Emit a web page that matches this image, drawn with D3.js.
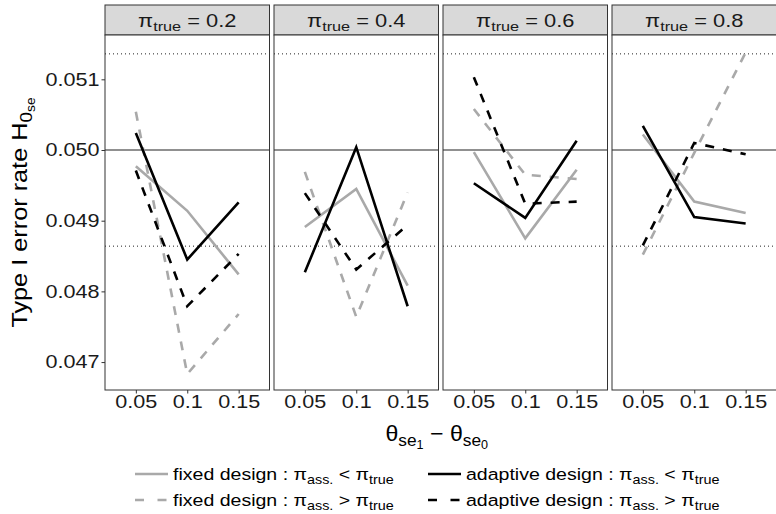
<!DOCTYPE html>
<html>
<head>
<meta charset="utf-8">
<script src="https://cdn.jsdelivr.net/npm/d3@7"></script>
<style>
  html, body { margin: 0; padding: 0; background: #fff; }
  svg { display: block; font-family: "Liberation Sans", Arial, sans-serif; }
</style>
</head>
<body>
<svg id="chart" width="776" height="514"></svg>
<script>
// ---- data ----
const piTrue = ["0.2", "0.4", "0.6", "0.8"];
const xCats = ["0.05", "0.1", "0.15"];
const yTicks = [0.047, 0.048, 0.049, 0.050, 0.051];
const nominal = 0.05;
const ciBounds = [0.05136, 0.04864];

// per panel (pi_true = 0.2, 0.4, 0.6, 0.8), values at x = 0.05, 0.1, 0.15
const fixedLess = [
  [0.04977, 0.04914, 0.04824],
  [0.04891, 0.04945, 0.04808],
  [0.04997, 0.04875, 0.04972],
  [0.05022, 0.04927, 0.04911]
];
const fixedGreater = [
  [0.05054, 0.04683, 0.04768],
  [0.04969, 0.04764, 0.04940],
  [0.05058, 0.04965, 0.04959],
  [0.04852, 0.04996, 0.05138]
];
const adaptiveLess = [
  [0.05024, 0.04845, 0.04926],
  [0.04827, 0.05004, 0.04779],
  [0.04953, 0.04904, 0.05013],
  [0.05034, 0.04905, 0.04896]
];
const adaptiveGreater = [
  [0.04971, 0.04779, 0.04853],
  [0.04939, 0.04831, 0.04894],
  [0.05103, 0.04924, 0.04927],
  [0.04865, 0.05010, 0.04994]
];

const series = [
  { values: fixedLess,       color: "#a9a9a9", dash: null,  design: "fixed design :  ",    rel: " < " },
  { values: fixedGreater,    color: "#a9a9a9", dash: "9,9", design: "fixed design :  ",    rel: " > " },
  { values: adaptiveLess,    color: "#000000", dash: null,  design: "adaptive design :  ", rel: " < " },
  { values: adaptiveGreater, color: "#000000", dash: "9,9", design: "adaptive design :  ", rel: " > " }
];

// ---- layout ----
const svg = d3.select("#chart");
const panelLeft = 105, panelW = 164.5, panelGap = 4.5;
const stripTop = 5, panelTop = 35, panelBottom = 390;
const borderCol = "#333333";
const fs = 18;
const stretch = 1.2;

const y = d3.scaleLinear().domain([0.046605, 0.051627]).range([panelBottom, panelTop]);
const x = d3.scalePoint().domain(xCats).range([0, panelW]).padding(0.6);

const line = d3.line().x((d, i) => x(xCats[i])).y(d => y(d));

function stretchTicks(sel, s) {
  sel.selectAll("text").each(function () {
    const t = d3.select(this);
    const tx = +t.attr("x") || 0;
    t.attr("x", 0).attr("transform", `translate(${tx},0) scale(${s},1)`);
  });
}

piTrue.forEach((p, k) => {
  const px = panelLeft + k * (panelW + panelGap);
  const g = svg.append("g").attr("transform", `translate(${px},0)`);

  // strip
  g.append("rect").attr("x", 0).attr("y", stripTop).attr("width", panelW).attr("height", panelTop - stripTop)
    .attr("fill", "#d9d9d9").attr("stroke", borderCol).attr("stroke-width", 1);
  const st = g.append("text").attr("transform", `translate(${panelW / 2},27) scale(1.25,1)`)
    .attr("text-anchor", "middle").attr("font-size", 17.5).attr("fill", "#1a1a1a");
  st.append("tspan").text("π");
  st.append("tspan").attr("font-size", 13).attr("dy", 4).text("true");
  st.append("tspan").attr("dy", -4).text(" = " + p);

  // panel background
  g.append("rect").attr("x", 0).attr("y", panelTop).attr("width", panelW).attr("height", panelBottom - panelTop)
    .attr("fill", "#fff");

  // reference lines
  g.append("line").attr("x1", 0).attr("x2", panelW).attr("y1", y(nominal)).attr("y2", y(nominal))
    .attr("stroke", "#222").attr("stroke-width", 1.1);
  ciBounds.forEach(b => {
    g.append("line").attr("x1", 0).attr("x2", panelW).attr("y1", y(b)).attr("y2", y(b))
      .attr("stroke", "#222").attr("stroke-width", 1).attr("stroke-dasharray", "1,3");
  });

  // series lines
  series.forEach(s => {
    g.append("path").datum(s.values[k]).attr("d", line)
      .attr("fill", "none").attr("stroke", s.color).attr("stroke-width", 2.6)
      .attr("stroke-dasharray", s.dash);
  });

  // border
  g.append("rect").attr("x", 0).attr("y", panelTop).attr("width", panelW).attr("height", panelBottom - panelTop)
    .attr("fill", "none").attr("stroke", borderCol).attr("stroke-width", 1);

  // x axis
  const xa = g.append("g").attr("transform", `translate(0,${panelBottom})`)
    .call(d3.axisBottom(x).tickSize(3.5).tickPadding(2));
  xa.select(".domain").remove();
  xa.selectAll("line").attr("stroke", borderCol);
  xa.selectAll("text").attr("font-size", fs).attr("fill", "#1a1a1a").attr("font-family", "Liberation Sans, Arial, sans-serif");
  stretchTicks(xa, stretch);

  // y axis on first panel
  if (k === 0) {
    const ya = g.append("g").call(d3.axisLeft(y).tickValues(yTicks).tickFormat(d3.format(".3f")).tickSize(3.5).tickPadding(2));
    ya.select(".domain").remove();
    ya.selectAll("line").attr("stroke", borderCol);
    ya.selectAll("text").attr("font-size", fs).attr("fill", "#1a1a1a").attr("font-family", "Liberation Sans, Arial, sans-serif");
    stretchTicks(ya, stretch);
  }
});

// y title
const yt = svg.append("text").attr("transform", `translate(27,${(panelTop + panelBottom) / 2}) rotate(-90) scale(1.15,1)`)
  .attr("text-anchor", "middle").attr("font-size", 22).attr("fill", "#000");
yt.append("tspan").text("Type I error rate H");
yt.append("tspan").attr("font-size", 16.5).attr("dy", 5).text("0");
yt.append("tspan").attr("font-size", 12).attr("dy", 3).text("se");

// x title
const xCenter = panelLeft + (4 * panelW + 3 * panelGap) / 2;
const xt = svg.append("text").attr("transform", `translate(${xCenter - 4},441) scale(1.05,1)`).attr("text-anchor", "middle")
  .attr("font-size", 22).attr("fill", "#000");
xt.append("tspan").text("θ");
xt.append("tspan").attr("font-size", 16.5).attr("dy", 5).text("se");
xt.append("tspan").attr("font-size", 12).attr("dy", 3).text("1");
xt.append("tspan").attr("dy", -8).text(" − θ");
xt.append("tspan").attr("font-size", 16.5).attr("dy", 5).text("se");
xt.append("tspan").attr("font-size", 12).attr("dy", 3).text("0");

// legend
const legendPos = [
  { kx: 135, ty: 474 },
  { kx: 135, ty: 500 },
  { kx: 428, ty: 474 },
  { kx: 428, ty: 500 }
];
series.forEach((s, i) => {
  const lp = legendPos[i];
  svg.append("line").attr("x1", lp.kx).attr("x2", lp.kx + 33).attr("y1", lp.ty).attr("y2", lp.ty)
    .attr("stroke", s.color).attr("stroke-width", 2.6).attr("stroke-dasharray", s.dash ? "9,13.5" : null);
  const t = svg.append("text").attr("transform", `translate(${lp.kx + 38},${lp.ty + 6}) scale(1.15,1)`)
    .attr("font-size", 17).attr("fill", "#000");
  t.append("tspan").text(s.design + "π");
  t.append("tspan").attr("font-size", 12.5).attr("dy", 4).text("ass.");
  t.append("tspan").attr("dy", -4).text(s.rel + "π");
  t.append("tspan").attr("font-size", 12.5).attr("dy", 4).text("true");
});
</script>
</body>
</html>
